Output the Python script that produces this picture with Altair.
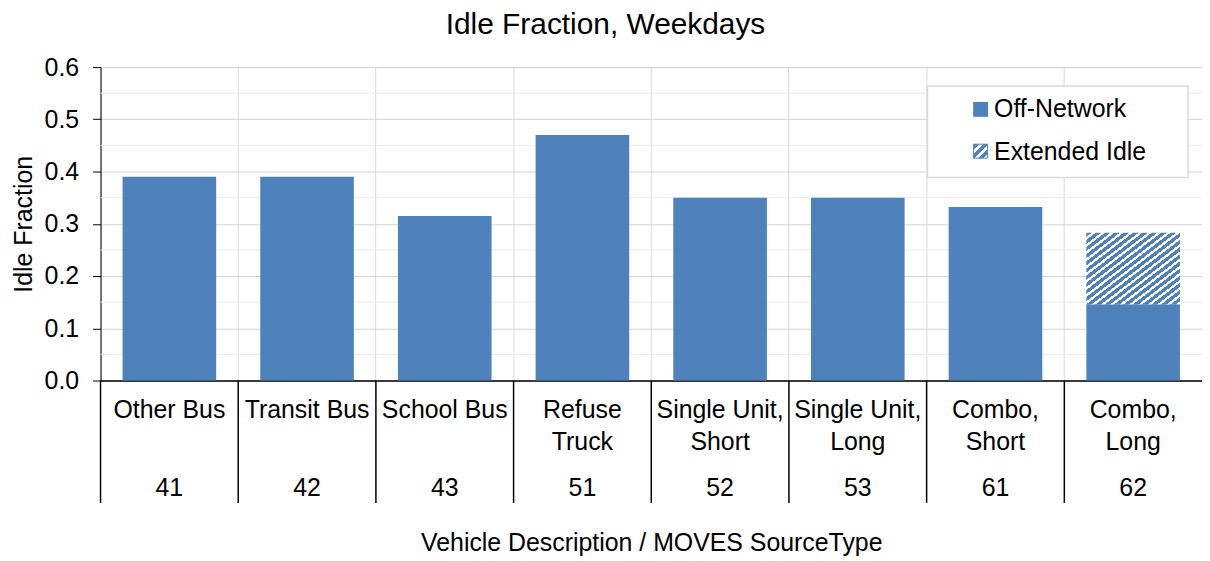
import altair as alt
import pandas as pd

# ---- data ----
codes = ["41", "42", "43", "51", "52", "53", "61", "62"]
descriptions = ["Other Bus", "Transit Bus", "School Bus", "Refuse\nTruck",
                "Single Unit,\nShort", "Single Unit,\nLong", "Combo,\nShort", "Combo,\nLong"]
off_network = [0.39, 0.39, 0.315, 0.47, 0.35, 0.35, 0.332, 0.146]
extended_idle = [0, 0, 0, 0, 0, 0, 0, 0.137]
y_ticks = [0.0, 0.1, 0.2, 0.3, 0.4, 0.5, 0.6]
minor_grid = [0.05, 0.15, 0.25, 0.35, 0.45, 0.55]
legend_labels = ["Off-Network", "Extended Idle"]

# ---- style ----
W, H = 1107, 315
BLUE = "#4f81bd"
FONT = "Liberation Sans"
FS = 25


def hatch(n, white=0.42):
    stops = []
    for k in range(n):
        a, b, c = k / n, (k + 1 - white) / n, (k + 1) / n
        stops += [alt.GradientStop(color=BLUE, offset=a), alt.GradientStop(color=BLUE, offset=b),
                  alt.GradientStop(color="white", offset=b), alt.GradientStop(color="white", offset=c)]
    return alt.LinearGradient(gradient="linear", x1=0, y1=0, x2=1, y2=1, stops=stops)


df = pd.DataFrame({"code": codes, "desc": descriptions,
                   "off": off_network, "ext": extended_idle})
df["total"] = df["off"] + df["ext"]
grid_df = pd.DataFrame({"v": minor_grid})

xenc = alt.X("code:N", sort=codes,
             scale=alt.Scale(paddingInner=0, paddingOuter=0),
             axis=alt.Axis(bandPosition=0, grid=True, gridColor="#d9d9d9", ticks=False, labels=False,
                           domainColor="black", domainWidth=1.5,
                           title="Vehicle Description / MOVES SourceType",
                           titleFontSize=FS, titleFontWeight="normal", titleFont=FONT,
                           titleBaseline="alphabetic", titleY=171))
yscale = alt.Scale(domain=[0, 0.6], nice=False)

base = alt.Chart(df)

minor = alt.Chart(grid_df).mark_rule(color="#ececec").encode(
    y=alt.Y("v:Q", scale=yscale), x=alt.value(0), x2=alt.value(W))

bars_off = base.mark_bar(color=BLUE, width=alt.RelativeBandSize(0.68)).encode(
    x=xenc,
    y=alt.Y("off:Q", scale=yscale,
            axis=alt.Axis(values=y_ticks, format=".1f", grid=True, gridColor="#d4d4d4",
                          domainColor="black", tickColor="black", tickSize=8, labelPadding=14,
                          labelFontSize=FS, labelFont=FONT, title="Idle Fraction",
                          titleFontSize=FS, titleFontWeight="normal", titleFont=FONT,
                          titleX=-69, titleY=H / 2, titleBaseline="alphabetic", titleAngle=270)),
)

bars_ext = base.transform_filter("datum.ext > 0").mark_bar(
    fill=hatch(20), width=alt.RelativeBandSize(0.68)).encode(
    x=alt.X("code:N", sort=codes), y=alt.Y("off:Q"), y2="total:Q")

seps = base.mark_rule(color="black", strokeWidth=1.5).encode(
    x=alt.X("code:N", sort=codes, bandPosition=0),
    y=alt.value(H), y2=alt.value(438))

desc_text = base.mark_text(baseline="alphabetic", lineBreak="\n", lineHeight=32,
                           fontSize=FS, font=FONT, color="black").encode(
    x=alt.X("code:N", sort=codes), y=alt.value(353), text="desc:N")

code_text = base.mark_text(baseline="alphabetic", fontSize=FS, font=FONT, color="black").encode(
    x=alt.X("code:N", sort=codes), y=alt.value(431), text="code:N")

# ---- legend ----
one = pd.DataFrame({"a": [0]})
leg_box = alt.Chart(one).mark_rect(fill="white", stroke="#d9d9d9", strokeWidth=1.5).encode(
    x=alt.value(831), x2=alt.value(1093), y=alt.value(19), y2=alt.value(111))
leg_sym1 = alt.Chart(one).mark_rect(fill=BLUE).encode(
    x=alt.value(877), x2=alt.value(892), y=alt.value(35), y2=alt.value(50))
leg_sym2 = alt.Chart(one).mark_rect(fill=hatch(3), stroke=BLUE, strokeWidth=1).encode(
    x=alt.value(877.5), x2=alt.value(891.5), y=alt.value(77.5), y2=alt.value(91.5))
leg_t1 = alt.Chart(one).mark_text(text=legend_labels[0], align="left", baseline="alphabetic",
                                  fontSize=FS, font=FONT, color="black").encode(
    x=alt.value(898), y=alt.value(50))
leg_t2 = alt.Chart(one).mark_text(text=legend_labels[1], align="left", baseline="alphabetic",
                                  fontSize=FS, font=FONT, color="black").encode(
    x=alt.value(898), y=alt.value(93))

chart = alt.layer(
    minor, bars_off, bars_ext, seps, desc_text, code_text,
    leg_box, leg_sym1, leg_sym2, leg_t1, leg_t2
).properties(
    width=W, height=H,
    title=alt.TitleParams("Idle Fraction, Weekdays", fontSize=30, font=FONT, fontWeight="normal",
                          anchor="middle", dx=-46, dy=29, baseline="alphabetic", offset=20),
    autosize=alt.AutoSizeParams(type="none"),
    padding={"left": 93, "top": 58, "right": 0, "bottom": 177},
).configure_view(stroke=None).configure(font=FONT)

chart.save("out.html", embed_options={"renderer": "svg", "actions": False})
